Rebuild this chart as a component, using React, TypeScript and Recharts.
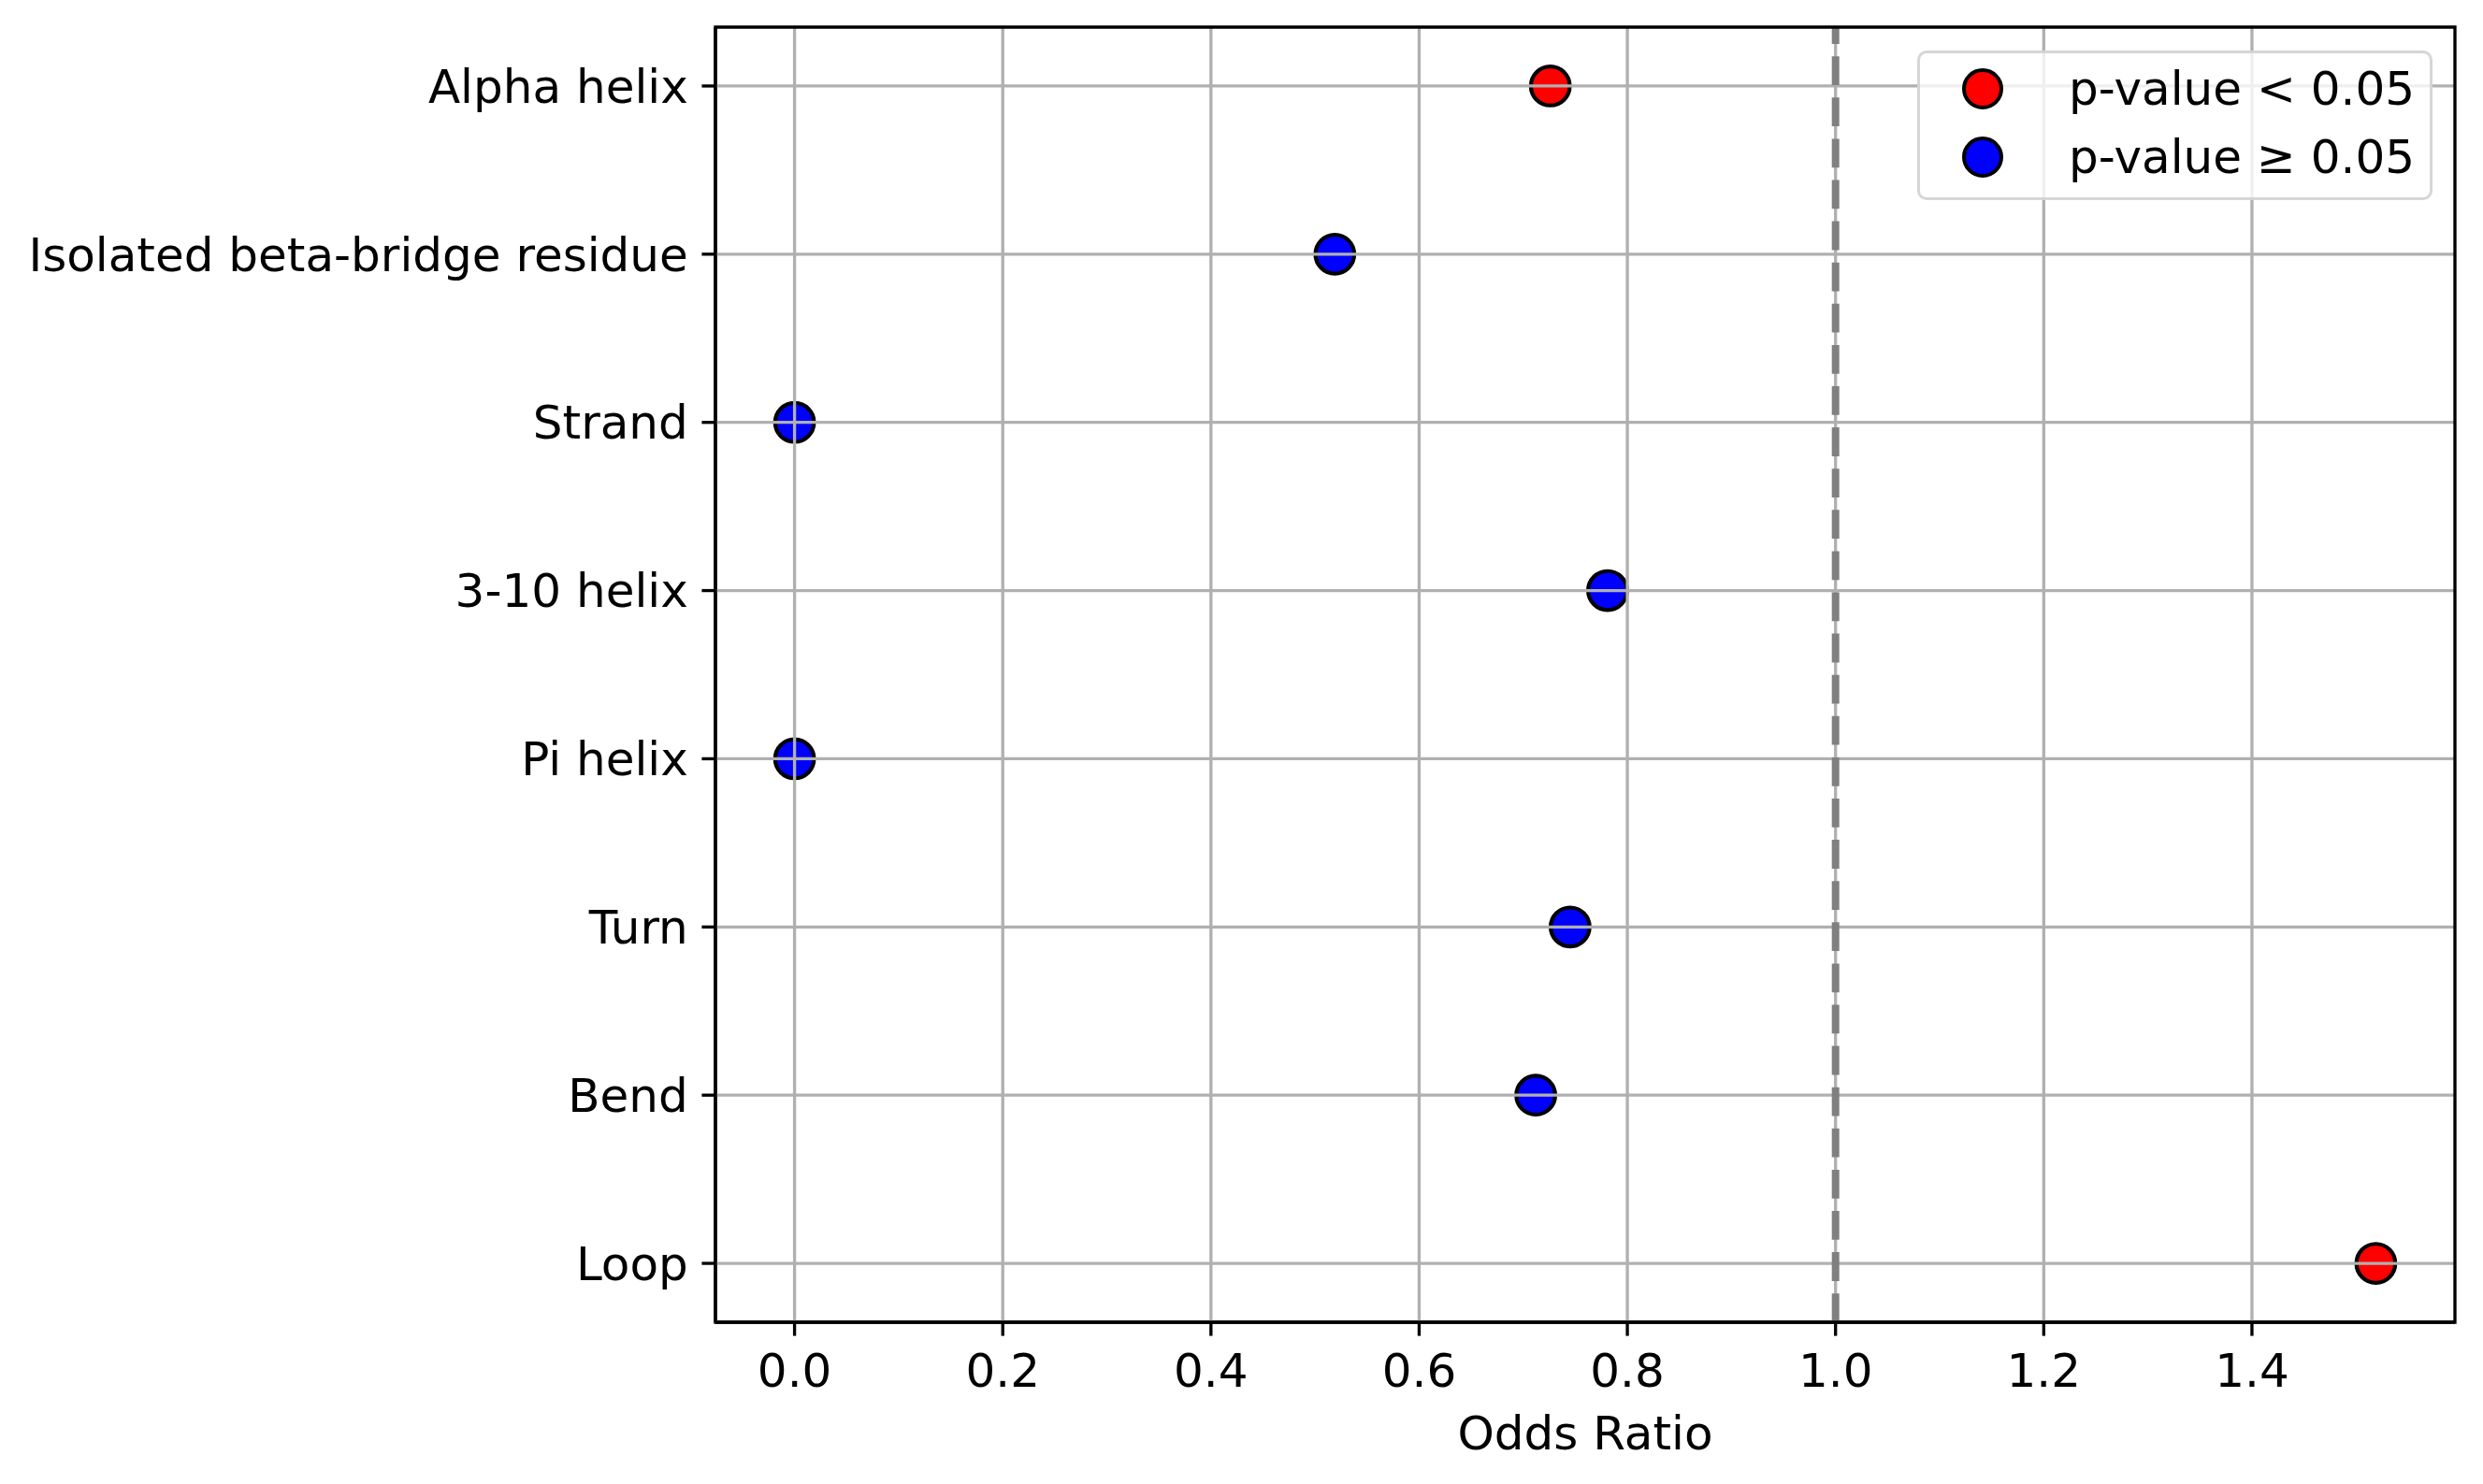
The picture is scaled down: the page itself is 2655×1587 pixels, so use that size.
import React from 'react';
import { ScatterChart, Scatter, XAxis, YAxis, ReferenceLine, ReferenceArea } from 'recharts';

// secondary structure categories, top to bottom
const categories = [
  'Alpha helix',
  'Isolated beta-bridge residue',
  'Strand',
  '3-10 helix',
  'Pi helix',
  'Turn',
  'Bend',
  'Loop',
];
const oddsRatios = [0.726, 0.519, 0, 0.781, 0, 0.745, 0.712, 1.519];
const significant = [true, false, false, false, false, false, false, true];

const xTicks = [0, 0.2, 0.4, 0.6, 0.8, 1.0, 1.2, 1.4];
const yTicks = categories.map((_, i) => i);
const xDomain: [number, number] = [-0.076, 1.595];
const yDomain: [number, number] = [-0.35, 7.35];

const legendItems = [
  { label: 'p-value < 0.05', color: '#ff0000' },
  { label: 'p-value \u2265 0.05', color: '#0000ff' },
];

const FONT = '"DejaVu Sans", sans-serif';
const LW = 3.33;

const points = categories.map((name, i) => ({ name, idx: i, or: oddsRatios[i], sig: significant[i] }));
const sigPoints = points.filter((p) => p.sig);
const nonSigPoints = points.filter((p) => !p.sig);

const marker = (color: string) => (props: any) => (
  <circle cx={props.cx} cy={props.cy} r={20.8} fill={color} stroke="#000" strokeWidth={4.2} />
);

const tickStyle = { fontSize: 50, fill: '#000', fontFamily: FONT };

export default function App() {
  return (
    <div style={{ position: 'absolute', left: 0, top: 0, width: 2655, height: 1587, background: '#fff', fontFamily: FONT }}>
      <ScatterChart width={2655} height={1587} margin={{ top: 29, right: 30, bottom: 0, left: 0 }}>
        <XAxis
          type="number"
          dataKey="or"
          domain={xDomain}
          allowDataOverflow
          ticks={xTicks}
          interval={0}
          tickFormatter={(v: number) => v.toFixed(1)}
          height={173}
          tick={tickStyle}
          tickLine={{ stroke: '#000', strokeWidth: LW }}
          tickSize={14.6}
          tickMargin={18.5}
          axisLine={{ stroke: '#000', strokeWidth: LW }}
          label={{ value: 'Odds Ratio', position: 'insideBottom', offset: 37, fontSize: 50, fill: '#000', fontFamily: FONT }}
        />
        <YAxis
          type="number"
          dataKey="idx"
          domain={yDomain}
          allowDataOverflow
          reversed
          ticks={yTicks}
          interval={0}
          tickFormatter={(i: number) => categories[i] ?? ''}
          width={765}
          tick={tickStyle}
          tickLine={{ stroke: '#000', strokeWidth: LW }}
          tickSize={14.6}
          tickMargin={14.6}
          axisLine={{ stroke: '#000', strokeWidth: LW }}
        />
        <Scatter data={sigPoints} shape={marker('#ff0000')} isAnimationActive={false} />
        <Scatter data={nonSigPoints} shape={marker('#0000ff')} isAnimationActive={false} />
        {/* grid drawn over the markers, like matplotlib */}
        {xTicks.map((t) => (
          <ReferenceLine key={'gx' + t} x={t} stroke="#b0b0b0" strokeWidth={LW} zIndex={700} />
        ))}
        {yTicks.map((t) => (
          <ReferenceLine key={'gy' + t} y={t} stroke="#b0b0b0" strokeWidth={LW} zIndex={700} />
        ))}
        <ReferenceLine x={1} stroke="#808080" strokeWidth={8} strokeDasharray="30.8 13.3" zIndex={800} />
        <ReferenceArea
          x1={xDomain[0]}
          x2={xDomain[1]}
          y1={yDomain[0]}
          y2={yDomain[1]}
          fill="none"
          fillOpacity={0}
          stroke="#000"
          strokeWidth={LW}
          zIndex={900}
        />
      </ScatterChart>
      <div
        style={{
          position: 'absolute',
          left: 2050,
          top: 54,
          width: 551,
          height: 160,
          boxSizing: 'border-box',
          border: '3.3px solid rgba(204,204,204,0.8)',
          borderRadius: 10,
          background: 'rgba(255,255,255,0.8)',
        }}
      >
        {legendItems.map((item, i) => (
          <div
            key={item.label}
            style={{ position: 'absolute', left: 0, top: 8 + i * 73, height: 60, width: 540, display: 'flex', alignItems: 'center' }}
          >
            <div
              style={{
                position: 'absolute',
                left: 45,
                top: 8,
                width: 44,
                height: 44,
                boxSizing: 'border-box',
                borderRadius: '50%',
                background: item.color,
                border: '4.2px solid #000',
              }}
            />
            <span style={{ position: 'absolute', left: 159, fontSize: 50, color: '#000', whiteSpace: 'nowrap', lineHeight: '60px' }}>
              {item.label}
            </span>
          </div>
        ))}
      </div>
    </div>
  );
}
